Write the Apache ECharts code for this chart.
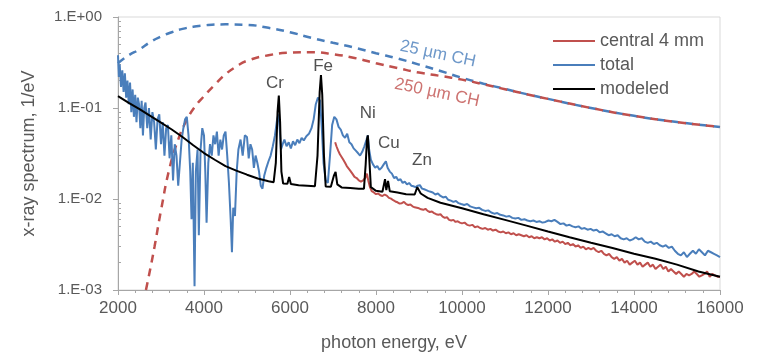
<!DOCTYPE html>
<html>
<head>
<meta charset="utf-8">
<script src="https://cdn.jsdelivr.net/npm/echarts@6/dist/echarts.min.js"></script>
<style>
  html, body { margin: 0; padding: 0; background: #fff; }
  #chart { width: 765px; height: 357px; }
</style>
</head>
<body>
<div id="chart"></div>
<script>
// x-ray spectrum, values
const xTicks = [2000, 4000, 6000, 8000, 10000, 12000, 14000, 16000];
const yTicks = [0.001, 0.01, 0.1, 1];
const yMinorTicks = [
  0.002, 0.003, 0.004, 0.005, 0.006, 0.007, 0.008, 0.009,
  0.02, 0.03, 0.04, 0.05, 0.06, 0.07, 0.08, 0.09,
  0.2, 0.3, 0.4, 0.5, 0.6, 0.7, 0.8, 0.9
];

// 25 um CH filter curve (dashed blue)
const thinE = [2000, 2250, 2500, 2750, 3000, 3250, 3500, 3750, 4000, 4500, 5000, 5500, 6000, 6500, 7000, 7500, 8000, 8500, 9000, 9500, 10000, 10500, 11000, 11500, 12000, 13000, 14000, 15000, 16000];
const thinV = [0.31, 0.38, 0.44, 0.53, 0.61, 0.68, 0.74, 0.78, 0.81, 0.83, 0.82, 0.76, 0.68, 0.59, 0.52, 0.46, 0.4, 0.35, 0.3, 0.255, 0.215, 0.185, 0.162, 0.142, 0.126, 0.1, 0.082, 0.07, 0.062];

// 250 um CH filter curve (dashed red)
const thickE = [2650, 2750, 2850, 3000, 3200, 3400, 3600, 3800, 4000, 4250, 4500, 4750, 5000, 5500, 6000, 6500, 7000, 7500, 8000, 8500, 9000, 9500, 10000, 10500, 11000, 11500, 12000, 13000, 14000, 15000, 16000];
const thickV = [0.001, 0.0017, 0.003, 0.0075, 0.022, 0.045, 0.074, 0.105, 0.135, 0.18, 0.235, 0.285, 0.33, 0.38, 0.405, 0.41, 0.39, 0.355, 0.31, 0.275, 0.245, 0.225, 0.205, 0.182, 0.161, 0.142, 0.126, 0.1, 0.082, 0.07, 0.062];

// total
const totalE = [
  2000, 2020, 2040, 2070, 2100, 2130, 2160, 2190, 2220, 2250, 2280, 2310, 2340, 2370, 2400, 2430, 2460, 2490, 2520, 2550,
  2580, 2610, 2640, 2680, 2720, 2760, 2800, 2840, 2880, 2920, 2960, 3000, 3040, 3080, 3120, 3160, 3200, 3240, 3280, 3320,
  3360, 3400, 3440, 3480, 3520, 3560, 3600, 3640, 3680, 3710, 3740, 3780, 3810, 3850, 3880, 3920, 3960, 4000, 4030, 4060,
  4100, 4140, 4180, 4220, 4260, 4300, 4340, 4380, 4420, 4460, 4500, 4540, 4580, 4620, 4650, 4680, 4720, 4760, 4800, 4850,
  4900, 4950, 5000, 5040, 5080, 5120, 5160, 5200, 5240, 5280, 5320, 5360, 5400, 5450, 5500, 5550, 5600, 5650, 5700, 5730,
  5760, 5790, 5830, 5870, 5920, 5970, 6020, 6070, 6120, 6170, 6220, 6270, 6320, 6380, 6440, 6500, 6550, 6600, 6650, 6700,
  6740, 6780, 6830, 6880, 6930, 6980, 7030, 7080, 7130, 7180, 7230, 7280, 7330, 7380, 7430, 7480, 7530, 7580, 7630, 7680,
  7730, 7780, 7810, 7840, 7880, 7930, 7980, 8030, 8080, 8130, 8180, 8230, 8270, 8320, 8370, 8420, 8470, 8520, 8570, 8620,
  8670, 8720, 8770, 8820, 8870, 8920, 8970, 9020, 9070, 9120, 9170, 9220, 9270, 9320, 9380, 9440, 9500, 9560, 9620, 9680,
  9740, 9800, 9860, 9920, 9980, 10050, 10120, 10190, 10260, 10330, 10400, 10470, 10540, 10610, 10680, 10750, 10820, 10890, 10960, 11030,
  11100, 11170, 11240, 11310, 11380, 11450, 11520, 11590, 11660, 11730, 11800, 11870, 11940, 12010, 12080, 12150, 12220, 12290, 12360, 12430,
  12500, 12570, 12640, 12710, 12780, 12850, 12920, 12990, 13060, 13130, 13200, 13270, 13340, 13410, 13480, 13550, 13620, 13690, 13760, 13830,
  13900, 13970, 14040, 14110, 14180, 14250, 14320, 14390, 14460, 14530, 14600, 14670, 14740, 14810, 14880, 14950, 15020, 15090, 15160, 15230,
  15300, 15370, 15440, 15510, 15580, 15650, 15720, 15790, 15860, 15930, 16000
];
const totalV = [
  0.38, 0.22, 0.30, 0.17, 0.26, 0.15, 0.24, 0.13, 0.20, 0.11, 0.19, 0.09, 0.16, 0.08, 0.14, 0.07, 0.13, 0.11, 0.06, 0.12,
  0.05, 0.10, 0.115, 0.06, 0.10, 0.045, 0.09, 0.07, 0.035, 0.075, 0.085, 0.04, 0.07, 0.03, 0.06, 0.065, 0.028, 0.05, 0.016, 0.04,
  0.03, 0.014, 0.025, 0.045, 0.06, 0.075, 0.08, 0.05, 0.02, 0.006, 0.025, 0.0011, 0.02, 0.035, 0.004, 0.035, 0.06, 0.05, 0.02, 0.0055,
  0.025, 0.04, 0.03, 0.05, 0.04, 0.055, 0.03, 0.045, 0.035, 0.05, 0.055, 0.03, 0.015, 0.006, 0.0026, 0.008, 0.0065, 0.02, 0.035, 0.045,
  0.03, 0.05, 0.048, 0.028, 0.04, 0.035, 0.022, 0.03, 0.025, 0.02, 0.014, 0.013, 0.018, 0.022, 0.026, 0.03, 0.038, 0.05, 0.075, 0.085,
  0.06, 0.035, 0.04, 0.045, 0.038, 0.042, 0.036, 0.043, 0.039, 0.045, 0.041, 0.047, 0.044, 0.049, 0.052, 0.06, 0.075, 0.11, 0.13, 0.12,
  0.06, 0.025, 0.016, 0.015, 0.03, 0.065, 0.08, 0.075, 0.062, 0.058, 0.05, 0.047, 0.052, 0.042, 0.04, 0.036, 0.034, 0.032, 0.03, 0.033,
  0.038, 0.045, 0.05, 0.035, 0.027, 0.024, 0.022, 0.023, 0.021, 0.022, 0.024, 0.026, 0.022, 0.02, 0.019, 0.017, 0.0175, 0.016, 0.0165, 0.015,
  0.0155, 0.0145, 0.015, 0.014, 0.0138, 0.0135, 0.014, 0.0142, 0.013, 0.0128, 0.0125, 0.0122, 0.012, 0.0118, 0.0112, 0.0115, 0.0108, 0.0104, 0.0106, 0.0098,
  0.0096, 0.0093, 0.0095, 0.009, 0.0088, 0.0086, 0.0088, 0.0083, 0.0081, 0.0079, 0.008, 0.0076, 0.0074, 0.0075, 0.0071, 0.0069, 0.007, 0.0067, 0.0066, 0.0064,
  0.0065, 0.0062, 0.0061, 0.0062, 0.0059, 0.006, 0.0058, 0.0057, 0.0058, 0.0056, 0.0057, 0.0055, 0.0056, 0.0058, 0.0057, 0.0059, 0.0056, 0.0053, 0.0054, 0.0051,
  0.0052, 0.005, 0.0049, 0.005, 0.0047, 0.0048, 0.0046, 0.0047, 0.0045, 0.0046, 0.0043, 0.0044, 0.0042, 0.004, 0.0041, 0.0039, 0.004, 0.0037, 0.0036, 0.0037,
  0.0035, 0.0036, 0.0038, 0.0036, 0.0037, 0.0034, 0.0033, 0.0034, 0.0032, 0.0033, 0.0031, 0.003, 0.0031, 0.0029, 0.003, 0.0027, 0.0025, 0.0024, 0.0026, 0.0023,
  0.0025, 0.0027, 0.0025, 0.0028, 0.0026, 0.0024, 0.0027, 0.0026, 0.0025, 0.0024, 0.0023
];

// central 4 mm
const centralE = [
  7050, 7080, 7120, 7160, 7200, 7240, 7280, 7320, 7360, 7400, 7450, 7500, 7550, 7600, 7650, 7700, 7750, 7790, 7820, 7860,
  7900, 7950, 8000, 8050, 8100, 8150, 8200, 8250, 8300, 8350, 8400, 8450, 8500, 8550, 8600, 8650, 8700, 8750, 8800, 8850,
  8900, 8950, 9000, 9050, 9100, 9150, 9200, 9250, 9300, 9350, 9400, 9450, 9500, 9550, 9600, 9650, 9700, 9750, 9800, 9850,
  9900, 9950, 10000, 10060, 10120, 10180, 10240, 10300, 10360, 10420, 10480, 10540, 10600, 10660, 10720, 10780, 10840, 10900, 10960, 11020,
  11080, 11140, 11200, 11260, 11320, 11380, 11440, 11500, 11560, 11620, 11680, 11740, 11800, 11860, 11920, 11980, 12040, 12100, 12160, 12220,
  12280, 12340, 12400, 12460, 12520, 12580, 12640, 12700, 12760, 12820, 12880, 12940, 13000, 13060, 13120, 13180, 13240, 13300, 13360, 13420,
  13480, 13540, 13600, 13660, 13720, 13780, 13840, 13900, 13960, 14020, 14080, 14140, 14200, 14260, 14320, 14380, 14440, 14500, 14560, 14620,
  14680, 14740, 14800, 14860, 14920, 14980, 15040, 15100, 15160, 15220, 15280, 15340, 15400, 15460, 15520, 15580, 15640, 15700, 15760, 15820,
  15880, 15940, 16000
];
const centralV = [
  0.042, 0.038, 0.034, 0.031, 0.029, 0.027, 0.025, 0.023, 0.022, 0.0205, 0.019, 0.0175, 0.017, 0.016, 0.0155, 0.016, 0.017, 0.019, 0.016, 0.0135,
  0.0122, 0.0118, 0.0113, 0.0115, 0.011, 0.0108, 0.0112, 0.0109, 0.0103, 0.0101, 0.0097, 0.0094, 0.0092, 0.0089, 0.009, 0.0093, 0.0088, 0.0086, 0.0087, 0.0083,
  0.0081, 0.008, 0.0079, 0.0077, 0.0076, 0.0078, 0.0074, 0.0072, 0.0073, 0.007, 0.0068, 0.0067, 0.0068, 0.0064, 0.0062, 0.0063, 0.0059, 0.0058, 0.0059, 0.0056,
  0.0057, 0.0055, 0.0054, 0.0055, 0.0052, 0.0051, 0.0052, 0.0049, 0.005, 0.0048, 0.0047, 0.0048, 0.0046, 0.0047, 0.0045, 0.0046, 0.0044, 0.0043, 0.0044, 0.0042,
  0.0043, 0.0041, 0.0042, 0.004, 0.0041, 0.004, 0.0039, 0.004, 0.0038, 0.0039, 0.0037, 0.0038, 0.0037, 0.0038, 0.0036, 0.0037, 0.0035, 0.0036, 0.0034, 0.0035,
  0.0033, 0.0034, 0.0032, 0.0033, 0.0031, 0.0032, 0.003, 0.0031, 0.0029, 0.003, 0.0028, 0.0029, 0.0028, 0.0029, 0.0027, 0.0026, 0.0027, 0.0025, 0.0024, 0.0025,
  0.0023, 0.0022, 0.0023, 0.0021, 0.0022, 0.002, 0.0021, 0.0019, 0.002, 0.0021, 0.0019, 0.002, 0.0018, 0.0019, 0.002, 0.0018, 0.0019, 0.0017, 0.0018, 0.0019,
  0.0017, 0.0018, 0.0016, 0.0017, 0.0016, 0.0015, 0.0016, 0.0015, 0.0014, 0.0015, 0.00145, 0.0015, 0.0016, 0.0015, 0.0014, 0.00145, 0.0015, 0.0016, 0.0014, 0.0015,
  0.00145, 0.0014, 0.0014
];

// modeled
const modelE = [
  2000, 2250, 2500, 2750, 3000, 3250, 3500, 3750, 4000, 4250, 4500, 4750, 5000, 5250, 5500, 5620, 5670, 5710, 5740, 5770,
  5800, 5840, 5940, 5980, 6020, 6200, 6400, 6580, 6640, 6690, 6720, 6750, 6790, 6830, 6950, 7020, 7060, 7100, 7200, 7400,
  7600, 7720, 7760, 7790, 7810, 7840, 7880, 8000, 8150, 8210, 8240, 8280, 8320, 8500, 8700, 8900, 8960, 9000, 9040, 9200,
  9500, 10000, 10500, 11000, 11500, 12000, 12500, 13000, 13500, 14000, 14500, 15000, 15500, 16000
];
const modelV = [
  0.135, 0.114, 0.097, 0.082, 0.069, 0.058, 0.048, 0.039, 0.032, 0.027, 0.023, 0.0205, 0.0185, 0.0168, 0.0157, 0.0153, 0.025, 0.09, 0.137, 0.07,
  0.02, 0.0148, 0.0147, 0.0175, 0.0146, 0.0142, 0.014, 0.0138, 0.03, 0.15, 0.23, 0.14, 0.03, 0.0137, 0.0136, 0.018, 0.0198, 0.0145, 0.0134, 0.0132,
  0.013, 0.013, 0.024, 0.045, 0.05, 0.03, 0.0135, 0.0123, 0.012, 0.0165, 0.0125, 0.0158, 0.0122, 0.0118, 0.0113, 0.0112, 0.0135, 0.014, 0.0115, 0.0103,
  0.0091, 0.0079, 0.0068, 0.0059, 0.0051, 0.0044, 0.0038, 0.0033, 0.0029, 0.0025, 0.0022, 0.0019, 0.0016, 0.0014
];

// text notes placed in data coordinates
const noteText = ['Cr', 'Fe', 'Ni', 'Cu', 'Zn'];
const noteE = [5650, 6770, 7810, 8300, 9070];
const noteV = [0.188, 0.29, 0.088, 0.041, 0.0263];
const filterText = ['25 µm CH', '250 µm CH'];
const filterE = [9440, 9420];
const filterV = [0.393, 0.147];

const pairs = (xs, ys) => xs.map((x, i) => [x, ys[i]]);

const chart = echarts.init(document.getElementById('chart'));
const FONT = 'Liberation Sans, Arial, sans-serif';
const BLUE = '#4a7ebb';
const RED = '#c0504d';
const TXT = '#595959';

const option = {
  animation: false,
  textStyle: { fontFamily: FONT },
  grid: {
    left: 118, right: 45, top: 17, bottom: 59,
    show: true, borderColor: '#d9d9d9', borderWidth: 1
  },
  legend: {
    data: ['central 4 mm', 'total', 'modeled'],
    orient: 'vertical',
    left: 548, top: 27,
    icon: 'rect', itemWidth: 42, itemHeight: 2, itemGap: 6,
    textStyle: { fontSize: 18, color: TXT, fontFamily: FONT }
  },
  xAxis: {
    type: 'value', min: xTicks[0], max: xTicks[xTicks.length - 1], interval: 2000,
    name: 'photon energy, eV', nameLocation: 'middle', nameGap: 44,
    nameTextStyle: { fontSize: 18, color: TXT, padding: [0, 50, 0, 0] },
    axisLine: { lineStyle: { color: '#a6a6a6' } },
    axisTick: { length: 5, lineStyle: { color: '#a6a6a6' } },
    minorTick: { show: true, splitNumber: 5, length: 3, lineStyle: { color: '#a6a6a6' } },
    axisLabel: { fontSize: 17, color: TXT, margin: 10, formatter: v => String(v) },
    splitLine: { show: false }
  },
  yAxis: [{
    type: 'log', logBase: 10, min: yTicks[0], max: yTicks[yTicks.length - 1],
    name: 'x-ray spectrum, 1/eV', nameLocation: 'middle', nameGap: 80,
    nameTextStyle: { fontSize: 18, color: TXT },
    axisLine: { show: true, lineStyle: { color: '#a6a6a6' } },
    axisTick: { show: true, length: 5, lineStyle: { color: '#a6a6a6' } },
    axisLabel: {
      fontSize: 15, color: TXT, margin: 16,
      formatter: v => {
        const e = Math.round(Math.log10(v));
        return '1.E' + (e >= 0 ? '+' : '-') + String(Math.abs(e)).padStart(2, '0');
      }
    },
    splitLine: { show: false }
  }, {
    type: 'log', logBase: 10, min: yTicks[0], max: yTicks[yTicks.length - 1],
    position: 'left',
    axisLine: { show: false },
    axisTick: { show: true, inside: true, length: 3, customValues: yMinorTicks, lineStyle: { color: '#a6a6a6' } },
    axisLabel: { show: false },
    splitLine: { show: false }
  }],
  series: [
    {
      name: 'central 4 mm', type: 'line', data: pairs(centralE, centralV),
      symbol: 'none', lineStyle: { color: RED, width: 2 }, itemStyle: { color: RED }
    },
    {
      name: '25 µm CH', type: 'line', data: pairs(thinE, thinV), smooth: true,
      symbol: 'none', lineStyle: { color: BLUE, width: 2.5, type: [8, 6] }
    },
    {
      name: '250 µm CH', type: 'line', data: pairs(thickE, thickV), smooth: true,
      symbol: 'none', lineStyle: { color: RED, width: 2.5, type: [8, 6] }
    },
    {
      name: 'total', type: 'line', data: pairs(totalE, totalV),
      symbol: 'none', lineStyle: { color: BLUE, width: 2 }, itemStyle: { color: BLUE }
    },
    {
      name: 'modeled', type: 'line', data: pairs(modelE, modelV),
      symbol: 'none', lineStyle: { color: '#000', width: 2 }, itemStyle: { color: '#000' }
    },
    {
      type: 'scatter', symbolSize: 0, silent: true,
      data: noteE.map((x, i) => [x, noteV[i], noteText[i]]),
      label: { show: true, position: 'inside', formatter: p => p.data[2], fontSize: 17, color: '#262626', fontFamily: FONT }
    },
    {
      type: 'scatter', symbolSize: 0, silent: true,
      data: filterE.map((x, i) => ({
        value: [x, filterV[i], filterText[i]],
        label: { color: i === 0 ? BLUE : RED }
      })),
      label: { show: true, position: 'inside', rotate: -12, formatter: p => p.data.value[2], fontSize: 17, fontFamily: FONT }
    }
  ]
};

chart.setOption(option);
</script>
</body>
</html>
